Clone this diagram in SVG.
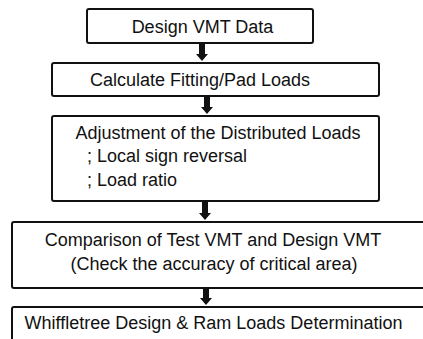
<svg xmlns="http://www.w3.org/2000/svg" width="423" height="339" viewBox="0 0 423 339">
  <style>
    .box { fill: #ffffff; stroke: #111111; stroke-width: 2; }
    .lbl { font-family: "Liberation Sans", Arial, Helvetica, sans-serif; font-size: 18px; fill: #111111; }
    .mid { text-anchor: middle; }
    .arrow { fill: #111111; }
  </style>
  <rect width="423" height="339" fill="#ffffff"/>

  <g id="node-design-vmt">
    <rect class="box" x="87" y="9" width="226" height="34" rx="2"/>
    <text class="lbl mid" x="202.5" y="33">Design VMT Data</text>
  </g>

  <g id="node-fitting-pad">
    <rect class="box" x="52" y="63" width="327" height="33" rx="2"/>
    <text class="lbl mid" x="200" y="86">Calculate Fitting/Pad Loads</text>
  </g>

  <g id="node-adjustment">
    <rect class="box" x="52" y="116" width="327" height="85" rx="2"/>
    <text class="lbl mid" x="218" y="139">Adjustment of the Distributed Loads</text>
    <text class="lbl" x="87" y="162">; Local sign reversal</text>
    <text class="lbl" x="87" y="186">; Load ratio</text>
  </g>

  <g id="node-comparison">
    <rect class="box" x="12" y="222" width="430" height="66" rx="2"/>
    <text class="lbl mid" x="213" y="246">Comparison of Test VMT and Design VMT</text>
    <text class="lbl mid" x="214" y="270">(Check the accuracy of critical area)</text>
  </g>

  <g id="node-whiffletree">
    <rect class="box" x="12" y="307" width="430" height="60" rx="2"/>
    <text class="lbl mid" x="213.5" y="329">Whiffletree Design &amp; Ram Loads Determination</text>
  </g>

  <g id="connectors">
    <path class="arrow" d="M199 43 H205 V54 H208 L202 61 L196 54 H199 Z"/>
    <path class="arrow" d="M204 96 H210 V107 H213 L207 114 L201 107 H204 Z"/>
    <path class="arrow" d="M202 201 H208 V213 H211 L205 220 L199 213 H202 Z"/>
    <path class="arrow" d="M203 288 H209 V298 H212 L206 305 L200 298 H203 Z"/>
  </g>
</svg>
